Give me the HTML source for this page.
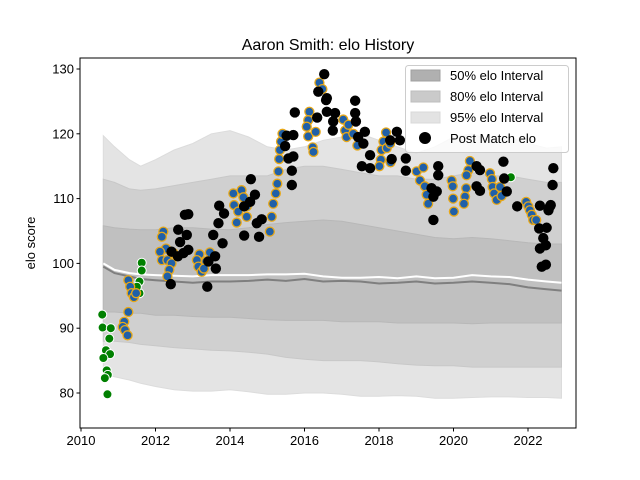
<!DOCTYPE html>
<html><head><meta charset="utf-8"><style>
body{margin:0;background:#fff}
svg{display:block;font-family:"Liberation Sans","DejaVu Sans",sans-serif}
</style></head><body>
<svg id="chart" width="640" height="480">
<rect width="640" height="480" fill="#fff"/>
<g id="bands"></g><g id="lines"></g><g id="pts"></g><g id="axes"></g>
</svg>
<script>
const bandYears=[2010.6,2010.9,2011.3,2011.6,2012,2012.5,2013,2013.5,2014,2014.5,2015,2015.5,2016,2016.5,2017,2017.5,2018,2018.5,2019,2019.5,2020,2020.5,2021,2021.5,2022,2022.5,2022.9];
const p95hi=[119.7,118,116,115,116,117.5,118.5,120,120.5,119.5,118,117.5,118,119,119.5,120,119,118,117,118,119.5,120,119,119.5,118.5,117.8,118];
const p80hi=[113,112.5,111.5,111.3,111.5,112,112.5,113,113.5,113.5,113.5,114.5,115,115,114.5,114,113.5,113.5,113,113,113.5,114,113.5,113.5,113,112.5,112.5];
const p50hi=[105.8,105.5,105.3,105.2,105.2,105.5,105.5,105.3,105.2,105.5,106,106.3,106.5,106.7,106.5,106,105.5,105,104.5,104,103.8,104,103.8,103.5,103.2,103,103];
const p50lo=[92.5,92.5,92.3,92.3,92,92,91.8,91.7,91.7,91.5,91.3,91.2,91.2,91.2,91,91,91,90.8,90.8,90.8,90.8,90.7,90.8,90.8,90.8,90.8,90.8];
const p80lo=[88,88,87.8,87.5,87.3,87,86.8,86.6,86.5,86.3,86,85.5,85.2,85,85,85,84.8,84.5,84.3,84.2,84.2,84,84,84,84,84,84];
const p95lo=[83,82.5,82,81.5,81,80.5,80.3,80.3,80.5,80.2,79.8,79.8,80,80,79.8,79.5,79.5,79.6,79.5,79.2,79.2,79.3,79.4,79.4,79.3,79.3,79.2];
const meanLine=[99.5,98.5,98,97.6,97.4,97.2,97,97.2,97.2,97.3,97.5,97.3,97.6,97.2,97.3,97.2,96.9,97,97.2,96.9,97,97.2,97,96.8,96.3,96,95.8];
const medianLine=[100,99,98.5,98.3,98.2,98.1,98,98.2,98.2,98.2,98.3,98.3,98.4,98,97.8,97.8,97.9,97.7,98,97.7,97.8,98.2,98,97.9,97.5,97.2,97];

const greenYears=[2010.57,2010.58,2010.80,2010.76,2010.67,2010.78,2010.60,2010.69,2010.72,2010.64,2010.71,2011.63,2011.63,2011.57,2011.57,2011.50,2021.54];
const greenElo=[92.1,90.1,90.0,88.4,86.6,86.0,85.4,83.5,82.8,82.3,79.8,100.1,98.9,97.2,95.4,96.4,113.3];

const orangeYears=[2011.27,2011.16,2011.12,2011.18,2011.25,2011.27,2011.32,2011.36,2011.42,2011.48,
2012.21,2012.17,2012.28,2012.12,2012.17,2012.32,2012.43,2012.37,2012.32,2012.48,
2013.18,2013.11,2013.15,2013.24,2013.46,2013.36,2013.30,
2014.09,2014.31,2014.11,2014.22,2014.18,2014.36,2014.45,2014.45,
2015.07,2015.12,2015.16,2015.23,2015.27,2015.30,2015.32,2015.34,2015.37,2015.41,
2016.13,2016.10,2016.06,2016.10,2016.22,2016.24,2016.30,2016.40,2016.48,
2017.04,2017.09,2017.18,2017.13,2017.31,2017.42,
2018.19,2018.12,2018.07,2018.05,2018.01,2018.21,2018.31,2018.30,
2019.01,2019.19,2019.10,2019.23,2019.28,2019.32,
2019.95,2019.98,2019.99,2020.01,
2020.44,2020.40,2020.35,2020.34,2020.31,2020.28,
2020.98,2021.03,2021.05,2021.09,2021.16,2021.25,2021.29,
2021.95,2022.01,2022.05,2022.10,2022.14,2022.22];
const orangeElo=[92.5,91.0,90.2,89.7,88.9,97.4,96.4,95.4,94.8,95.4,
104.9,104.1,102.3,101.8,100.5,100.5,100.0,99.0,98.0,101.6,
101.4,100.5,99.5,98.7,101.7,100.3,99.2,
110.8,111.3,109.0,108.0,106.3,110.2,108.8,107.2,
104.9,107.2,109.2,110.8,112.3,114.2,116.1,117.5,118.8,120.0,
123.4,122.1,121.1,119.6,117.9,117.2,120.3,127.9,126.9,
122.2,120.5,121.4,119.5,120.0,118.2,
120.2,118.8,117.5,116.0,115.0,117.8,115.6,118.5,
114.2,114.8,112.8,111.9,110.6,109.2,
112.8,111.9,110.0,108.0,
115.8,114.4,113.6,111.6,110.3,109.2,
113.9,113.0,111.8,110.8,109.8,111.8,110.4,
109.5,108.8,108.2,107.5,106.7,106.7];

const blackYears=[2012.41,2012.43,2012.61,2012.66,2012.75,2012.84,2012.79,2012.88,2012.88,2012.60,
2013.39,2013.42,2013.60,2013.62,2013.71,2013.84,2013.55,2013.69,2013.80,
2014.56,2014.38,2014.67,2014.54,2014.38,2014.78,2014.72,2014.85,
2015.52,2015.70,2015.48,2015.57,2015.70,2015.66,2015.66,2015.74,
2016.53,2016.37,2016.58,2016.34,2016.60,2016.60,2016.82,2016.77,2016.76,
2017.36,2017.36,2017.38,2017.44,2017.62,2017.58,2017.76,2017.54,2017.76,
2018.30,2018.48,2018.34,2018.56,2018.72,2018.72,
2019.59,2019.59,2019.41,2019.46,2019.46,2019.55,
2020.62,2020.71,2020.62,2020.71,
2021.34,2021.36,2021.43,2021.71,
2022.32,2022.59,2022.55,2022.30,2022.50,2022.41,2022.32,2022.48,2022.37,2022.48,2022.68,2022.66,2022.61];
const blackElo=[96.8,101.8,105.2,103.3,101.6,104.4,107.5,107.6,102.1,101.1,
96.4,100.3,101.1,99.2,108.9,107.7,104.4,106.2,103.1,
113.0,108.8,110.6,109.5,104.3,104.1,106.2,106.8,
119.7,119.8,118.1,116.2,116.5,114.3,112.1,123.3,
129.2,126.5,125.2,122.5,123.4,125.5,123.2,121.9,120.5,
125.1,123.2,121.9,119.5,120.3,118.5,116.7,115.0,114.7,
119.0,120.3,116.1,119.0,116.2,114.3,
115.0,113.6,111.6,110.3,106.7,111.1,
115.0,114.4,111.9,111.2,
115.7,113.1,111.1,108.8,
108.9,108.8,108.2,105.4,105.5,103.9,102.3,102.8,99.5,99.8,114.7,112.1,109.0];

const yTicks=[80,90,100,110,120,130];
const xTicks=[2010,2012,2014,2016,2018,2020,2022];

const L=80,R=576,T=58,B=428;
const X=y=>81+(y-2010)*37.25;
const Y=v=>393-(v-80)*6.48;
const NS='http://www.w3.org/2000/svg';
function mk(tag,attrs,parent){const e=document.createElementNS(NS,tag);for(const k in attrs)e.setAttribute(k,attrs[k]);parent.appendChild(e);return e;}
const n=bandYears.length;
function band(hi,lo,fill,stroke,name){
  let d='';
  for(let i=0;i<n;i++)d+=(i?'L':'M')+X(bandYears[i]).toFixed(1)+','+Y(hi[i]).toFixed(1);
  for(let i=n-1;i>=0;i--)d+='L'+X(bandYears[i]).toFixed(1)+','+Y(lo[i]).toFixed(1);
  const p=mk('path',{d:d+'Z',fill:fill,stroke:stroke,'stroke-width':1},document.getElementById('bands'));
  
  
}
band(p95hi,p95lo,'#e4e4e4','#dcdcdc','band-95');
band(p80hi,p80lo,'#d0d0d0','#c8c8c8','band-80');
band(p50hi,p50lo,'#c0c0c0','#b8b8b8','band-50');
function line(arr,color,w,name){
  let d='';for(let i=0;i<n;i++)d+=(i?'L':'M')+X(bandYears[i]).toFixed(1)+','+Y(arr[i]).toFixed(1);
  const p=mk('path',{d:d,fill:'none',stroke:color,'stroke-width':w},document.getElementById('lines'));
  
  
}
line(meanLine,'#7f7f7f',2,'mean-elo-line');
line(medianLine,'#ffffff',2,'median-elo-line');
const pts=document.getElementById('pts');
greenYears.forEach((yr,i)=>{const c=mk('circle',{cx:X(yr),cy:Y(greenElo[i]),r:4.5,fill:'#008000',stroke:'#fff','stroke-width':1},pts);
  
  });
orangeYears.forEach((yr,i)=>{const c=mk('circle',{cx:X(yr),cy:Y(orangeElo[i]),r:4.5,fill:'#2060a8',stroke:'#e8a818','stroke-width':1.3},pts);
  
  });
blackYears.forEach((yr,i)=>{const c=mk('circle',{cx:X(yr),cy:Y(blackElo[i]),r:5.2,fill:'#000'},pts);
  
  });
const ax=document.getElementById('axes');
const frame=mk('rect',{x:L,y:T,width:R-L,height:B-T,fill:'none',stroke:'#000','stroke-width':1},ax);


yTicks.forEach(v=>{mk('line',{x1:L-3.5,x2:L,y1:Y(v),y2:Y(v),stroke:'#000'},ax);
  const t=mk('text',{x:L-6,y:Y(v)+4.5,'text-anchor':'end','font-size':13},ax);t.textContent=v;
  
  });
xTicks.forEach(v=>{mk('line',{x1:X(v),x2:X(v),y1:B,y2:B+3.5,stroke:'#000'},ax);
  const t=mk('text',{x:X(v),y:B+17,'text-anchor':'middle','font-size':13},ax);t.textContent=v;
  
  });
</script>
<svg style="position:absolute;left:0;top:0" width="640" height="480">
<text x="328" y="50" text-anchor="middle" font-size="16">Aaron Smith: elo History</text>
<text transform="translate(35,243) rotate(-90)" text-anchor="middle" font-size="13">elo score</text>
<g>
<rect x="405.5" y="65.5" width="163" height="87" rx="3" fill="#fff" fill-opacity="0.8" stroke="#ccc"/>
<rect x="411" y="70" width="29" height="11" fill="#b0b0b0" stroke="#a0a0a0"/>
<text x="450" y="80" font-size="13">50% elo Interval</text>
<rect x="411" y="91" width="29" height="11" fill="#cacaca" stroke="#bdbdbd"/>
<text x="450" y="101" font-size="13">80% elo Interval</text>
<rect x="411" y="112" width="29" height="11" fill="#e3e3e3" stroke="#d8d8d8"/>
<text x="450" y="122" font-size="13">95% elo Interval</text>
<circle cx="425" cy="138" r="6" fill="#000"/>
<text x="450" y="143" font-size="13">Post Match elo</text>
</g>
</svg>
</body></html>
